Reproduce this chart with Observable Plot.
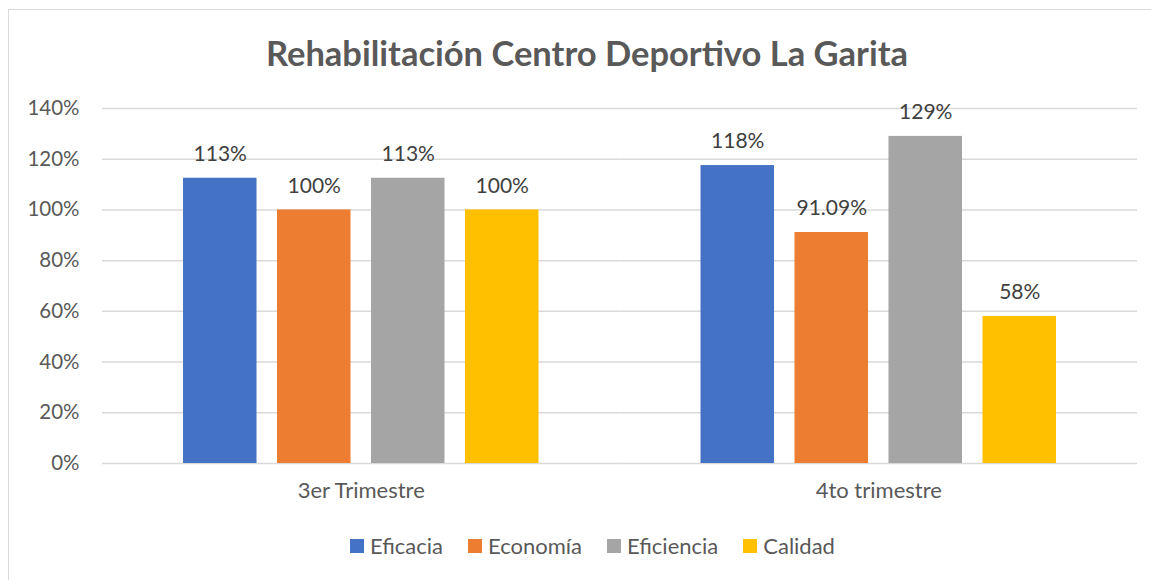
<!DOCTYPE html>
<html>
<head>
<meta charset="utf-8">
<script src="https://cdn.jsdelivr.net/npm/d3@7"></script>
<script src="https://cdn.jsdelivr.net/npm/@observablehq/plot@0.6"></script>
<style>
  html, body { margin: 0; padding: 0; background: #fff; }
  #wrap { position: relative; width: 1151px; height: 580px; font-family: Lato, "Open Sans", sans-serif; overflow: hidden; }
  #frame { position: absolute; left: 8px; top: 9px; width: 1160px; height: 600px; border: 1px solid #d9d9d9; box-sizing: border-box; }
  #title { position: absolute; left: 0; width: 1174px; top: 32px; text-align: center; font-size: 34.5px; font-weight: bold; color: #595959; }
  #chart { position: absolute; left: 0; top: 80px; }
  #legend { position: absolute; top: 532px; left: 350px; display: flex; align-items: center; font-size: 22px; color: #595959; }
  .item { display: flex; align-items: center; margin-right: 25px; }
  .sw { width: 14px; height: 14px; margin-right: 6px; }
</style>
</head>
<body>
<div id="wrap">
  <div id="frame"></div>
  <div id="title">Rehabilitación Centro Deportivo La Garita</div>
  <div id="chart"></div>
  <div id="legend"></div>
</div>
<script>
const categories = ["3er Trimestre", "4to trimestre"];
const series = ["Eficacia", "Economía", "Eficiencia", "Calidad"];
const colors = ["#4472C4", "#ED7D31", "#A5A5A5", "#FFC000"];
const eficacia = [112.5, 117.5];
const economia = [100, 91.09];
const eficiencia = [112.5, 129];
const calidad = [100, 58];
const labelsEficacia = ["113%", "118%"];
const labelsEconomia = ["100%", "91.09%"];
const labelsEficiencia = ["113%", "129%"];
const labelsCalidad = ["100%", "58%"];
const yTicks = [0, 20, 40, 60, 80, 100, 120, 140];

const seriesValues = [eficacia, economia, eficiencia, calidad];
const seriesLabels = [labelsEficacia, labelsEconomia, labelsEficiencia, labelsCalidad];
const data = [];
categories.forEach((c, i) => {
  series.forEach((s, j) => {
    data.push({cat: c, serie: s, value: seriesValues[j][i], label: seriesLabels[j][i]});
  });
});

const chart = Plot.plot({
  width: 1151,
  height: 440,
  marginLeft: 102,
  marginRight: 14,
  marginTop: 28,
  marginBottom: 57,
  style: {fontFamily: "Lato, 'Open Sans', sans-serif", fontSize: "20px", color: "#595959", background: "transparent"},
  fx: {domain: categories, padding: 0, label: null, round: false},
  x: {domain: series, paddingInner: 0.218, paddingOuter: 0.862, axis: null, round: false},
  y: {domain: [0, 140], ticks: yTicks, label: null},
  color: {domain: series, range: colors},
  marks: [
    Plot.gridY(yTicks, {stroke: "#d9d9d9", strokeOpacity: 1, strokeWidth: 1.5}),
    Plot.axisY(yTicks, {tickSize: 0, tickPadding: 23, tickFormat: d => d + "%", fontSize: 20.5, fill: "#595959", label: null}),
    Plot.axisFx({anchor: "bottom", tickSize: 0, tickPadding: 19, fontSize: 22, fill: "#595959", label: null}),
    Plot.barY(data, {fx: "cat", x: "serie", y: "value", fill: "serie"}),
    Plot.text(data, {fx: "cat", x: "serie", y: "value", text: "label", dy: -24, fontSize: 21, fill: "#404040"})
  ]
});
document.getElementById("chart").appendChild(chart);

const legend = document.getElementById("legend");
series.forEach((s, i) => {
  const item = document.createElement("div");
  item.className = "item";
  const sw = document.createElement("div");
  sw.className = "sw";
  sw.style.background = colors[i];
  const t = document.createElement("span");
  t.textContent = s;
  item.appendChild(sw);
  item.appendChild(t);
  legend.appendChild(item);
});
</script>
</body>
</html>
